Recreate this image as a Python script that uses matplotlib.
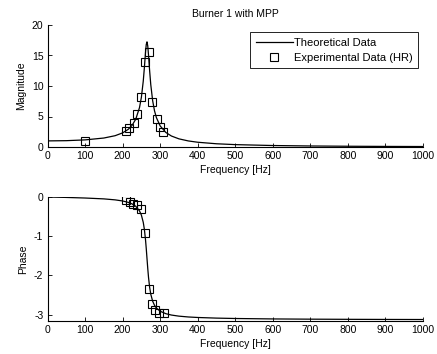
import numpy as np
import matplotlib
matplotlib.use("Agg")
import matplotlib.pyplot as plt

plt.rcParams['font.family'] = ['Liberation Sans', 'DejaVu Sans']
plt.rcParams['axes.unicode_minus'] = False

# theoretical curve
f_theory = [0, 50, 100, 150, 180, 200, 215, 225, 235, 245, 250, 255, 258, 261,
            263, 265, 267, 269, 272, 275, 280, 285, 290, 300, 315, 330, 350,
            375, 400, 450, 500, 600, 700, 800, 900, 1000]
mag_theory = [1.0, 1.037, 1.165, 1.47, 1.852, 2.311, 2.898, 3.528, 4.552, 6.457,
              8.14, 10.79, 13.02, 15.51, 16.81, 17.24, 16.56, 15.09, 12.49,
              10.24, 7.60, 5.93, 4.82, 3.458, 2.388, 1.80, 1.336, 0.994, 0.78,
              0.53, 0.39, 0.242, 0.167, 0.123, 0.095, 0.0755]
phase_theory = [0.0, -0.011, -0.026, -0.048, -0.073, -0.101, -0.137, -0.175,
                -0.236, -0.354, -0.461, -0.646, -0.826, -1.088, -1.316, -1.571,
                -1.824, -2.048, -2.303, -2.478, -2.657, -2.763, -2.831, -2.913,
                -2.976, -3.011, -3.039, -3.060, -3.073, -3.089, -3.099, -3.110,
                -3.116, -3.120, -3.123, -3.125]

# experimental points (HR)
f_mag_exp = [100, 209, 218, 230, 239, 248, 260, 269, 279, 291, 299, 308]
mag_exp = [1.03, 2.67, 3.1, 4.0, 5.35, 8.2, 14.0, 15.6, 7.4, 4.6, 3.3, 2.4]
f_ph_exp = [209, 219, 228, 239, 249, 260, 270, 278, 287, 298, 309]
ph_exp = [-0.086, -0.14, -0.17, -0.21, -0.31, -0.92, -2.34, -2.73, -2.87,
          -2.95, -2.97]

W, H = 437, 354
fig = plt.figure(figsize=(W / 100, H / 100), dpi=100)

def axes_px(left, top, right, bottom):
    return fig.add_axes([left / W, 1 - bottom / H, (right - left) / W, (bottom - top) / H])

ax1 = axes_px(47.5, 25, 423, 147)
ax2 = axes_px(47.5, 197, 423, 320.5)

fs = 7.5
for ax in (ax1, ax2):
    ax.spines['top'].set_visible(False)
    ax.spines['right'].set_visible(False)
    for s in ax.spines.values():
        s.set_linewidth(0.8)
    ax.tick_params(direction='in', length=3, width=0.6, labelsize=fs, pad=3)
    ax.set_xlim(0, 1000)
    ax.set_xticks(np.arange(0, 1001, 100))
    ax.set_xlabel("Frequency [Hz]", fontsize=fs, labelpad=3)

ax1.plot(f_theory, mag_theory, "k-", linewidth=0.9, label="Theoretical Data")
ax1.plot(f_mag_exp, mag_exp, "s", markersize=5.3, markerfacecolor="none",
         markeredgecolor="k", markeredgewidth=0.8, label="Experimental Data (HR)")
ax1.set_ylim(0, 20)
ax1.set_yticks([0, 5, 10, 15, 20])
ax1.set_ylabel("Magnitude", fontsize=fs, labelpad=4)
ax1.set_title("Burner 1 with MPP", fontsize=fs, pad=6)
leg = ax1.legend(loc="upper right", bbox_to_anchor=(0.9867, 0.9426), borderaxespad=0,
                 fontsize=8, fancybox=False, framealpha=1, edgecolor="k",
                 handlelength=3.3, handletextpad=0.1, borderpad=0.5, labelspacing=0.45)
leg.get_frame().set_linewidth(0.6)

ax2.plot(f_theory, phase_theory, "k-", linewidth=0.9)
ax2.plot(f_ph_exp, ph_exp, "s", markersize=5.3, markerfacecolor="none",
         markeredgecolor="k", markeredgewidth=0.8)
ax2.set_ylim(-3.15, 0)
ax2.set_yticks([-3, -2, -1, 0])
ax2.set_ylabel("Phase", fontsize=fs, labelpad=4)

fig.savefig("out.png", dpi=100)
